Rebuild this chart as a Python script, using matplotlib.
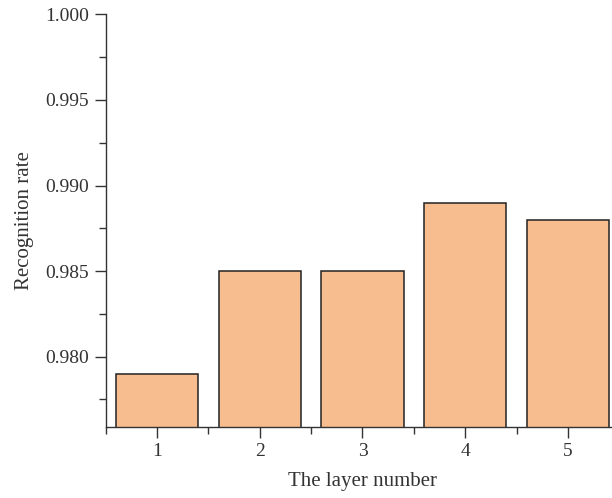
import numpy as np
import matplotlib.pyplot as plt
from matplotlib.ticker import MultipleLocator

plt.rcParams['font.family'] = ['Liberation Serif', 'DejaVu Serif']

layers = [1, 2, 3, 4, 5]
rates = [0.979, 0.985, 0.985, 0.989, 0.988]

fig = plt.figure(figsize=(6.12, 4.98), dpi=100)
ax = fig.add_axes([105.6 / 612, 0.143, 513.75 / 612, 0.828])

ax.bar(layers, rates, width=0.8, color='#F8BD8F', edgecolor='#222222', linewidth=1.1, zorder=2)

ax.set_xlim(0.5, 5.5)
ax.set_ylim(0.9759, 1.000)
ax.set_yticks([0.980, 0.985, 0.990, 0.995, 1.000])
ax.yaxis.set_minor_locator(MultipleLocator(0.0025))
ax.set_xticks(layers)
ax.set_xticks([0.5, 1.5, 2.5, 3.5, 4.5], minor=True)
ax.yaxis.set_major_formatter(plt.FormatStrFormatter('%.3f'))

for side in ['top', 'right']:
    ax.spines[side].set_visible(False)
for side in ['left', 'bottom']:
    ax.spines[side].set_color('#333333')
    ax.spines[side].set_linewidth(1.0)

ax.tick_params(which='major', direction='out', length=8, width=1, color='#333333',
               labelsize=14, labelcolor='#333333', pad=4)
ax.tick_params(which='minor', direction='out', length=5, width=1, color='#333333')

ax.set_xlabel('The layer number', fontsize=15, color='#333333', labelpad=8)
ax.set_ylabel('Recognition rate', fontsize=15, color='#333333', labelpad=8)

fig.savefig('out.png', dpi=100)
